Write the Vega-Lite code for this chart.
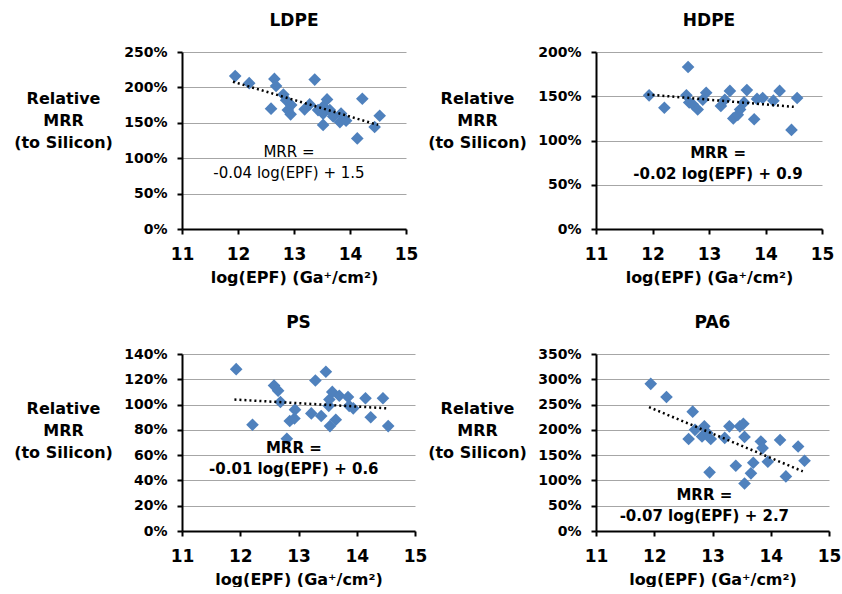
{
  "$schema": "https://vega.github.io/schema/vega-lite/v6.json",
  "padding": {"left": 13, "top": 12, "right": 0, "bottom": 0},
  "datasets": {
    "ldpe": [
      {"logEPF": 11.95, "MRR": 2.16}, {"logEPF": 12.20, "MRR": 2.06}, {"logEPF": 12.65, "MRR": 2.12}, {"logEPF": 12.68, "MRR": 2.02},
      {"logEPF": 12.59, "MRR": 1.70}, {"logEPF": 12.81, "MRR": 1.90}, {"logEPF": 12.86, "MRR": 1.82}, {"logEPF": 12.95, "MRR": 1.75},
      {"logEPF": 12.89, "MRR": 1.68}, {"logEPF": 12.94, "MRR": 1.62}, {"logEPF": 13.19, "MRR": 1.69}, {"logEPF": 13.28, "MRR": 1.76},
      {"logEPF": 13.37, "MRR": 2.11}, {"logEPF": 13.43, "MRR": 1.68}, {"logEPF": 13.52, "MRR": 1.73}, {"logEPF": 13.59, "MRR": 1.83},
      {"logEPF": 13.52, "MRR": 1.63}, {"logEPF": 13.52, "MRR": 1.47}, {"logEPF": 13.64, "MRR": 1.68}, {"logEPF": 13.70, "MRR": 1.59},
      {"logEPF": 13.84, "MRR": 1.63}, {"logEPF": 13.82, "MRR": 1.51}, {"logEPF": 13.93, "MRR": 1.53}, {"logEPF": 14.13, "MRR": 1.28},
      {"logEPF": 14.22, "MRR": 1.84}, {"logEPF": 14.44, "MRR": 1.44}, {"logEPF": 14.53, "MRR": 1.60}
    ],
    "ldpe_trend": [{"logEPF": 11.91, "MRR": 2.08}, {"logEPF": 14.50, "MRR": 1.47}],
    "hdpe": [
      {"logEPF": 11.94, "MRR": 1.51}, {"logEPF": 12.21, "MRR": 1.37}, {"logEPF": 12.63, "MRR": 1.83}, {"logEPF": 12.60, "MRR": 1.51},
      {"logEPF": 12.65, "MRR": 1.43}, {"logEPF": 12.71, "MRR": 1.41}, {"logEPF": 12.80, "MRR": 1.35}, {"logEPF": 12.89, "MRR": 1.46},
      {"logEPF": 12.95, "MRR": 1.54}, {"logEPF": 13.21, "MRR": 1.39}, {"logEPF": 13.28, "MRR": 1.46}, {"logEPF": 13.37, "MRR": 1.56},
      {"logEPF": 13.43, "MRR": 1.25}, {"logEPF": 13.51, "MRR": 1.29}, {"logEPF": 13.55, "MRR": 1.35}, {"logEPF": 13.62, "MRR": 1.43},
      {"logEPF": 13.67, "MRR": 1.57}, {"logEPF": 13.80, "MRR": 1.24}, {"logEPF": 13.85, "MRR": 1.47}, {"logEPF": 13.95, "MRR": 1.48},
      {"logEPF": 14.14, "MRR": 1.45}, {"logEPF": 14.25, "MRR": 1.56}, {"logEPF": 14.46, "MRR": 1.12}, {"logEPF": 14.56, "MRR": 1.48}
    ],
    "hdpe_trend": [{"logEPF": 11.91, "MRR": 1.52}, {"logEPF": 14.50, "MRR": 1.38}],
    "ps": [
      {"logEPF": 11.93, "MRR": 1.28}, {"logEPF": 12.21, "MRR": 0.84}, {"logEPF": 12.58, "MRR": 1.15}, {"logEPF": 12.65, "MRR": 1.11},
      {"logEPF": 12.69, "MRR": 1.02}, {"logEPF": 12.80, "MRR": 0.73}, {"logEPF": 12.85, "MRR": 0.87}, {"logEPF": 12.93, "MRR": 0.89},
      {"logEPF": 12.94, "MRR": 0.96}, {"logEPF": 13.22, "MRR": 0.93}, {"logEPF": 13.29, "MRR": 1.19}, {"logEPF": 13.39, "MRR": 0.91},
      {"logEPF": 13.47, "MRR": 1.26}, {"logEPF": 13.52, "MRR": 0.99}, {"logEPF": 13.54, "MRR": 0.83}, {"logEPF": 13.53, "MRR": 1.04},
      {"logEPF": 13.58, "MRR": 1.10}, {"logEPF": 13.64, "MRR": 0.88}, {"logEPF": 13.70, "MRR": 1.07}, {"logEPF": 13.85, "MRR": 1.06},
      {"logEPF": 13.87, "MRR": 0.99}, {"logEPF": 13.94, "MRR": 0.97}, {"logEPF": 14.15, "MRR": 1.05}, {"logEPF": 14.24, "MRR": 0.90},
      {"logEPF": 14.45, "MRR": 1.05}, {"logEPF": 14.54, "MRR": 0.83}
    ],
    "ps_trend": [{"logEPF": 11.90, "MRR": 1.04}, {"logEPF": 14.54, "MRR": 0.97}],
    "pa6": [
      {"logEPF": 11.94, "MRR": 2.91}, {"logEPF": 12.21, "MRR": 2.65}, {"logEPF": 12.66, "MRR": 2.36}, {"logEPF": 12.59, "MRR": 1.82},
      {"logEPF": 12.70, "MRR": 2.00}, {"logEPF": 12.82, "MRR": 1.87}, {"logEPF": 12.86, "MRR": 2.07}, {"logEPF": 12.91, "MRR": 1.94},
      {"logEPF": 12.97, "MRR": 1.82}, {"logEPF": 12.95, "MRR": 1.16}, {"logEPF": 13.21, "MRR": 1.84}, {"logEPF": 13.29, "MRR": 2.07},
      {"logEPF": 13.40, "MRR": 1.29}, {"logEPF": 13.47, "MRR": 2.07}, {"logEPF": 13.53, "MRR": 2.12}, {"logEPF": 13.55, "MRR": 1.86},
      {"logEPF": 13.55, "MRR": 0.94}, {"logEPF": 13.66, "MRR": 1.14}, {"logEPF": 13.70, "MRR": 1.35}, {"logEPF": 13.83, "MRR": 1.77},
      {"logEPF": 13.86, "MRR": 1.64}, {"logEPF": 13.95, "MRR": 1.37}, {"logEPF": 14.16, "MRR": 1.80}, {"logEPF": 14.26, "MRR": 1.08},
      {"logEPF": 14.47, "MRR": 1.67}, {"logEPF": 14.58, "MRR": 1.39}
    ],
    "pa6_trend": [{"logEPF": 11.91, "MRR": 2.45}, {"logEPF": 14.55, "MRR": 1.18}]
  },
  "columns": 2,
  "spacing": {"row": 125, "column": 181},
  "bounds": "flush",
  "concat": [
    {
      "width": 224, "height": 177,
      "title": {"text": "LDPE"},
      "encoding": {
        "x": {"field": "logEPF", "type": "quantitative", "scale": {"domain": [11, 15], "nice": false, "zero": false}, "axis": {"title": "log(EPF) (Ga⁺/cm²)", "values": [11, 12, 13, 14, 15]}},
        "y": {"field": "MRR", "type": "quantitative", "scale": {"domain": [0, 2.5], "nice": false}, "axis": {"title": ["Relative", "MRR", "(to Silicon)"], "titleY": 46, "values": [0, 0.5, 1, 1.5, 2, 2.5]}}
      },
      "layer": [
        {
          "data": {"name": "ldpe"},
          "mark": {"type": "point", "shape": "diamond", "filled": true, "size": 160, "color": "#4F81BD", "opacity": 1}
        },
        {
          "data": {"name": "ldpe_trend"},
          "mark": {"type": "line", "color": "black", "strokeWidth": 2.5, "strokeDash": [2, 3]}
        },
        {
          "data": {"values": [{"logEPF": 12.91, "MRR": 1.09}]},
          "mark": {"type": "text", "fontSize": 15, "fontWeight": "normal", "lineHeight": 21, "align": "center", "baseline": "middle", "color": "black"},
          "encoding": {"text": {"value": ["MRR =", "-0.04 log(EPF) + 1.5"]}}
        }
      ]
    },
    {
      "width": 226, "height": 177,
      "title": {"text": "HDPE"},
      "encoding": {
        "x": {"field": "logEPF", "type": "quantitative", "scale": {"domain": [11, 15], "nice": false, "zero": false}, "axis": {"title": "log(EPF) (Ga⁺/cm²)", "values": [11, 12, 13, 14, 15]}},
        "y": {"field": "MRR", "type": "quantitative", "scale": {"domain": [0, 2], "nice": false}, "axis": {"title": ["Relative", "MRR", "(to Silicon)"], "titleY": 46, "values": [0, 0.5, 1, 1.5, 2]}}
      },
      "layer": [
        {
          "data": {"name": "hdpe"},
          "mark": {"type": "point", "shape": "diamond", "filled": true, "size": 160, "color": "#4F81BD", "opacity": 1}
        },
        {
          "data": {"name": "hdpe_trend"},
          "mark": {"type": "line", "color": "black", "strokeWidth": 2.5, "strokeDash": [2, 3]}
        },
        {
          "data": {"values": [{"logEPF": 13.16, "MRR": 0.86}]},
          "mark": {"type": "text", "fontSize": 15, "fontWeight": "bold", "lineHeight": 21, "align": "center", "baseline": "middle", "color": "black"},
          "encoding": {"text": {"value": ["MRR =", "-0.02 log(EPF)  + 0.9"]}}
        }
      ]
    },
    {
      "width": 233, "height": 177,
      "title": {"text": "PS"},
      "encoding": {
        "x": {"field": "logEPF", "type": "quantitative", "scale": {"domain": [11, 15], "nice": false, "zero": false}, "axis": {"title": "log(EPF) (Ga⁺/cm²)", "values": [11, 12, 13, 14, 15]}},
        "y": {"field": "MRR", "type": "quantitative", "scale": {"domain": [0, 1.4], "nice": false}, "axis": {"title": ["Relative", "MRR", "(to Silicon)"], "titleY": 54, "values": [0, 0.2, 0.4, 0.6, 0.8, 1, 1.2, 1.4]}}
      },
      "layer": [
        {
          "data": {"name": "ps"},
          "mark": {"type": "point", "shape": "diamond", "filled": true, "size": 160, "color": "#4F81BD", "opacity": 1}
        },
        {
          "data": {"name": "ps_trend"},
          "mark": {"type": "line", "color": "black", "strokeWidth": 2.5, "strokeDash": [2, 3]}
        },
        {
          "data": {"values": [{"logEPF": 12.92, "MRR": 0.66}]},
          "mark": {"type": "text", "fontSize": 15, "fontWeight": "bold", "lineHeight": 21, "align": "center", "baseline": "middle", "color": "black"},
          "encoding": {"text": {"value": ["MRR =", "-0.01 log(EPF)  + 0.6"]}}
        }
      ]
    },
    {
      "width": 233, "height": 177,
      "title": {"text": "PA6"},
      "encoding": {
        "x": {"field": "logEPF", "type": "quantitative", "scale": {"domain": [11, 15], "nice": false, "zero": false}, "axis": {"title": "log(EPF) (Ga⁺/cm²)", "values": [11, 12, 13, 14, 15]}},
        "y": {"field": "MRR", "type": "quantitative", "scale": {"domain": [0, 3.5], "nice": false}, "axis": {"title": ["Relative", "MRR", "(to Silicon)"], "titleY": 54, "values": [0, 0.5, 1, 1.5, 2, 2.5, 3, 3.5]}}
      },
      "layer": [
        {
          "data": {"name": "pa6"},
          "mark": {"type": "point", "shape": "diamond", "filled": true, "size": 160, "color": "#4F81BD", "opacity": 1}
        },
        {
          "data": {"name": "pa6_trend"},
          "mark": {"type": "line", "color": "black", "strokeWidth": 2.5, "strokeDash": [2, 3]}
        },
        {
          "data": {"values": [{"logEPF": 12.86, "MRR": 0.71}]},
          "mark": {"type": "text", "fontSize": 15, "fontWeight": "bold", "lineHeight": 21, "align": "center", "baseline": "middle", "color": "black"},
          "encoding": {"text": {"value": ["MRR =", "-0.07 log(EPF)  + 2.7"]}}
        }
      ]
    }
  ],
  "config": {
    "font": "DejaVu Sans",
    "background": "white",
    "view": {"stroke": null},
    "title": {"fontSize": 17, "fontWeight": "bold", "offset": 15, "color": "black", "anchor": "middle", "frame": "group"},
    "axis": {"domainColor": "black", "domainWidth": 2, "tickColor": "black", "tickWidth": 2, "tickSize": 5, "labelFontWeight": "bold", "labelColor": "black", "titleColor": "black", "titleFontWeight": "bold", "labelOverlap": false},
    "axisX": {"grid": false, "labelFontSize": 17, "labelPadding": 12, "titleFontSize": 16, "titlePadding": 7, "format": "d", "labelFlush": false},
    "axisY": {"grid": true, "gridColor": "#A6A6A6", "gridWidth": 1, "labelFontSize": 14, "labelPadding": 10, "format": ".0%", "titleAngle": 0, "titleFontSize": 16, "titleX": -119, "titleAlign": "center", "titleBaseline": "middle", "titleLineHeight": 22}
  }
}
